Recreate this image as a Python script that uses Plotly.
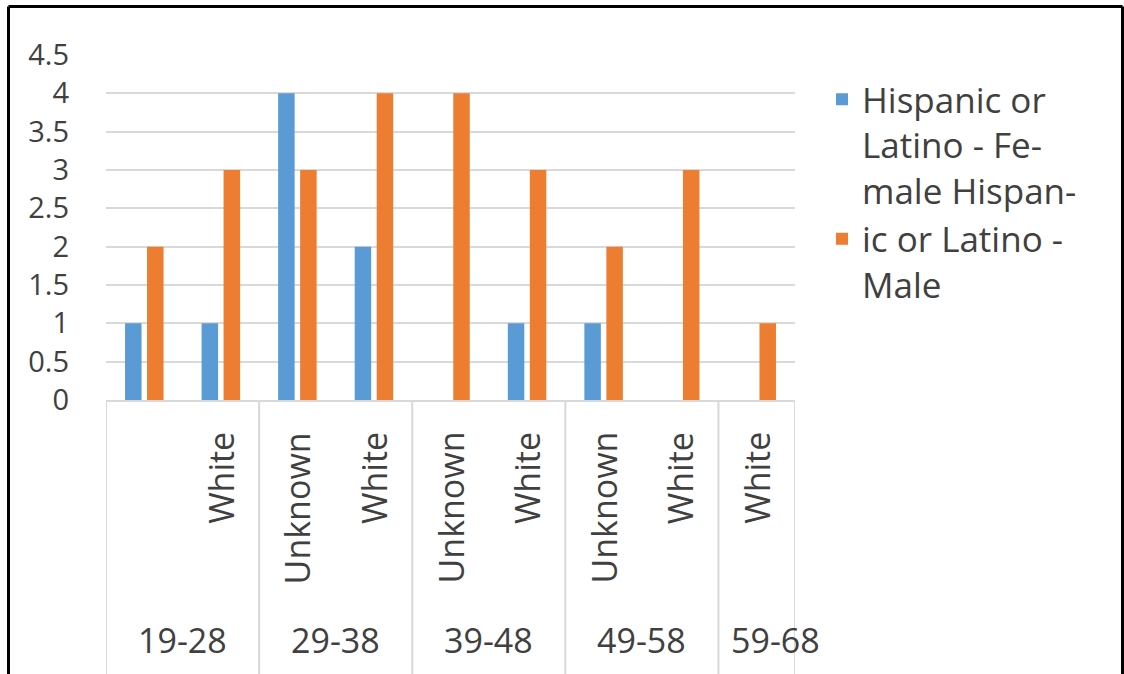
import plotly.graph_objects as go

# Age bands and the race subcategory drawn under each pair of bars
age_groups = ["19-28", "29-38", "39-48", "49-58", "59-68"]
group_sizes = [2, 2, 2, 2, 1]
race_labels = ["", "White", "Unknown", "White", "Unknown", "White", "Unknown", "White", "White"]

female_counts = [1, 1, 4, 2, 0, 1, 1, 0, 0]
male_counts = [2, 3, 3, 4, 4, 3, 2, 3, 1]

series_names = ["Hispanic or<br>Latino - Fe-<br>male Hispan-", "ic or Latino -<br>Male"]

W, H = 1124, 674
L, R, T, B = 106, 329, 55, 274
PW, PH = W - L - R, H - T - B

FONT = "Open Sans"
TXT = "#404040"
GRID = "#d9d9d9"


def px_x(p):
    return (p - L) / PW


def px_y(p):
    return (H - B - p) / PH


x = list(range(len(race_labels)))

fig = go.Figure()
fig.add_trace(go.Bar(x=x, y=female_counts, name=series_names[0], marker_color="#5b9bd5",
                     marker_line_width=0))
fig.add_trace(go.Bar(x=x, y=male_counts, name=series_names[1], marker_color="#ed7d31",
                     marker_line_width=0))

shapes = []
annotations = []

# inner (race) labels, rotated
for i, lab in enumerate(race_labels):
    if lab:
        annotations.append(dict(x=i, y=px_y(430), xref="x", yref="paper", text=lab,
                                textangle=-90, showarrow=False, xanchor="center", yanchor="top",
                                font=dict(family=FONT, size=34, color=TXT)))

# outer (age) labels and the dividers between age groups
start = 0
bounds = [-0.5]
for g, n in zip(age_groups, group_sizes):
    center = start + (n - 1) / 2
    shift = 19 if n == 1 else 0
    annotations.append(dict(x=center, y=px_y(640), xref="x", yref="paper", text=g,
                            showarrow=False, xanchor="center", yanchor="middle", xshift=shift,
                            font=dict(family=FONT, size=34, color=TXT)))
    start += n
    bounds.append(start - 0.5)

for b in bounds:
    shapes.append(dict(type="line", xref="x", yref="paper", x0=b, x1=b, y0=0, y1=px_y(H + 5),
                       line=dict(color=GRID, width=2)))

# outer frame of the chart
frame = dict(color="black", width=3)
shapes.append(dict(type="line", xref="paper", yref="paper", x0=px_x(8.5), x1=px_x(8.5),
                   y0=px_y(6.5), y1=px_y(H + 5), line=frame))
shapes.append(dict(type="line", xref="paper", yref="paper", x0=px_x(8.5), x1=px_x(1122.5),
                   y0=px_y(6.5), y1=px_y(6.5), line=frame))
shapes.append(dict(type="line", xref="paper", yref="paper", x0=px_x(1122.5), x1=px_x(1122.5),
                   y0=px_y(6.5), y1=px_y(H + 5), line=frame))

fig.update_layout(
    width=W, height=H,
    margin=dict(l=L, r=R, t=T, b=B, pad=0),
    paper_bgcolor="white", plot_bgcolor="white",
    barmode="group", bargap=0.425, bargroupgap=0.25,
    font=dict(family=FONT, size=34, color=TXT),
    showlegend=True,
    legend=dict(x=px_x(822), y=px_y(70), xref="paper", yref="paper", xanchor="left",
                yanchor="top", valign="top", bgcolor="rgba(0,0,0,0)",
                font=dict(family=FONT, size=35, color=TXT), tracegroupgap=0),
    shapes=shapes,
    annotations=annotations,
)
fig.update_xaxes(range=[-0.5, len(race_labels) - 0.5], showticklabels=False, showgrid=False,
                 zeroline=False, showline=True, linecolor=GRID, linewidth=2, ticks="")
fig.update_yaxes(range=[0, 4.5], dtick=0.5, tick0=0, showgrid=True, gridcolor=GRID, gridwidth=2,
                 zeroline=False, showline=False, ticks="", ticklabelstandoff=36,
                 tickfont=dict(family=FONT, size=29, color=TXT))

fig.write_html("out.html")
